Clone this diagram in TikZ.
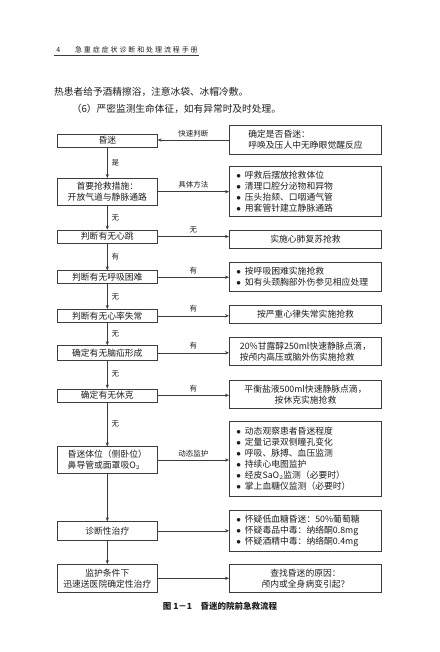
\documentclass[tikz,border=0pt]{standalone}
\usepackage{fontspec}
\setmainfont{Noto Sans CJK SC}
\usetikzlibrary{arrows.meta}
\usetikzlibrary{calc}
\usepackage{xcolor}
\definecolor{linegray}{RGB}{60,60,60}
\definecolor{inkgray}{RGB}{30,30,30}

\tikzset{
  box/.style={draw=linegray,line width=0.6pt,text=inkgray,inner sep=0pt,font=\fontsize{8.8}{11}\selectfont},
  lbox/.style={box,minimum width=100pt},
  rbox/.style={box,minimum width=152.4pt},
  rlist/.style={rbox,text width=138.4pt,inner xsep=7pt,align=left},
  arr/.style={-{Stealth[length=4pt,width=3.2pt]},line width=0.6pt,linegray},
  lab/.style={font=\fontsize{7.5}{9}\selectfont,text=inkgray,inner sep=2pt},
  head/.style={font=\fontsize{7}{8}\selectfont,text=inkgray,inner sep=0pt},
  body/.style={font=\fontsize{9.7}{12}\selectfont,text=inkgray,inner sep=0pt,anchor=west},
}
\newcommand\itm{$\bullet$\kern4pt}

\begin{document}
\begin{tikzpicture}[x=1pt,y=-1pt]
			\useasboundingbox[fill=white] (0,0) rectangle (439,652);
			% page head and text
			\node(pageno) at (58.3,50)[head]{4};
			\foreach \c [count=\i from 0] in {急,重,症,症,状,诊,断,和,处,理,流,程,手,册}
				\node(h\i) at (78.5+8.9*\i,50)[head]{\c};
			\coordinate(rulea) at (54,55);
			\coordinate(ruleb) at (199,55);
			\draw[line width=0.5pt,linegray] (rulea) -- (ruleb);
			\node(line1) at (54,91.7)[body]{热患者给予酒精擦浴，注意冰袋、冰帽冷敷。};
			\node(line2) at (71.7,109)[body]{（6）严密监测生命体征，如有异常时及时处理。};
			
			% left column
			\node(coma) at (107.3,140.5)[lbox,minimum height=13pt]{昏迷};
			\node(aid) at (107.3,191.7)[lbox,minimum height=26.7pt,align=center]{首要抢救措施：\\开放气道与静脉通路};
			\node(heart) at (107.3,236.5)[lbox,minimum height=13pt]{判断有无心跳};
			\node(breath) at (107.3,277.2)[lbox,minimum height=13pt]{判断有无呼吸困难};
			\node(rhythm) at (107.3,315.8)[lbox,minimum height=13pt]{判断有无心率失常};
			\node(hernia) at (107.3,352.8)[lbox,minimum height=14.3pt]{确定有无脑疝形成};
			\node(shock) at (107.3,395.3)[lbox,minimum height=13pt]{确定有无休克};
			\node(pose) at (107.3,460)[lbox,minimum height=26.6pt,align=left]{昏迷体位（侧卧位）\\鼻导管或面罩吸O$_2$};
			\node(diag) at (107.3,530.8)[lbox,minimum height=18.3pt]{诊断性治疗};
			\node(send) at (107.3,578.3)[lbox,minimum height=28pt,align=center]{监护条件下\\迅速送医院确定性治疗};
			
			% right column
			\node(judge) at (305.5,140)[rbox,minimum height=28.6pt,align=left]{确定是否昏迷：\\呼唤及压人中无睁眼觉醒反应};
			\node(method) at (305.5,191.7)[rlist,minimum height=50pt]{\itm 呼救后摆放抢救体位\\\itm 清理口腔分泌物和异物\\\itm 压头抬颏、口咽通气管\\\itm 用套管针建立静脉通路};
			\node(cpr) at (305.5,239.2)[rbox,minimum height=18.3pt]{实施心肺复苏抢救};
			\node(dysp) at (305.5,276.7)[rlist,minimum height=28.7pt]{\itm 按呼吸困难实施抢救\\\itm 如有头颈胸部外伤参见相应处理};
			\node(arrh) at (305.5,314.2)[rbox,minimum height=18.3pt]{按严重心律失常实施抢救};
			\node(mann) at (305.5,351.7)[rbox,minimum height=28pt,align=left]{20\%甘露醇250ml快速静脉点滴，\\按颅内高压或脑外伤实施抢救};
			\node(fluid) at (305.5,394.2)[rbox,minimum height=28.3pt,align=center]{平衡盐液500ml快速静脉点滴，\\按休克实施抢救};
			\node(watch) at (305.5,458.5)[rlist,minimum height=75pt]{\itm 动态观察患者昏迷程度\\\itm 定量记录双侧瞳孔变化\\\itm 呼吸、脉搏、血压监测\\\itm 持续心电图监护\\\itm 经皮SaO$_2$监测（必要时）\\\itm 掌上血糖仪监测（必要时）};
			\node(drug) at (305.5,530.8)[rlist,minimum height=41.7pt]{\itm 怀疑低血糖昏迷：50\%葡萄糖\\\itm 怀疑毒品中毒：纳络酮0.8mg\\\itm 怀疑酒精中毒：纳络酮0.4mg};
			\node(cause) at (305.5,578.3)[rbox,minimum height=28pt,align=center]{查找昏迷的原因：\\颅内或全身病变引起？};
			
			% main flow
			\draw[arr] (coma) -- (aid) node[lab,midway,right,xshift=2pt]{是};
			\draw[arr] (aid) -- (heart) node[lab,midway,right,xshift=2pt]{无};
			\draw[arr] (heart) -- (breath) node[lab,midway,right,xshift=2pt]{有};
			\draw[arr] (breath) -- (rhythm) node[lab,midway,right,xshift=2pt]{无};
			\draw[arr] (rhythm) -- (hernia) node[lab,midway,right,xshift=2pt]{无};
			\draw[arr] (hernia) -- (shock) node[lab,midway,right,xshift=2pt]{无};
			\draw[arr] (shock) -- (pose) node[lab,midway,right,xshift=2pt]{无};
			\draw[arr] (pose) -- (diag);
			\draw[arr] (diag) -- (send);
			
			% side branches
			\draw[arr] (judge.west) -- (judge.west -| coma.east) node[lab,midway,above,yshift=1pt]{快速判断};
			\draw[arr] (aid.east) -- (aid.east -| method.west) node[lab,midway,above,yshift=1pt]{具体方法};
			\draw[arr] (heart.east) -- (heart.east -| cpr.west) node[lab,midway,above,yshift=1pt]{无};
			\draw[arr] (breath.east) -- (breath.east -| dysp.west) node[lab,midway,above,yshift=1pt]{有};
			\draw[arr] (rhythm.east) -- (rhythm.east -| arrh.west) node[lab,midway,above,yshift=1pt]{有};
			\draw[arr] (hernia.east) -- (hernia.east -| mann.west) node[lab,midway,above,yshift=1pt]{有};
			\draw[arr] (shock.east) -- (shock.east -| fluid.west) node[lab,midway,above,yshift=1pt]{有};
			\draw[arr] (pose.east) -- (pose.east -| watch.west) node[lab,midway,above,yshift=1pt]{动态监护};
			\draw[arr] (diag.east) -- (diag.east -| drug.west);
			\draw[arr] (send.east) -- (send.east -| cause.west);
			
			\node(caption) at (220,606.7)[font=\bfseries\fontsize{8.5}{10}\selectfont,text=inkgray]{图 1－1\quad 昏迷的院前急救流程};
		\end{tikzpicture}
\end{document}
